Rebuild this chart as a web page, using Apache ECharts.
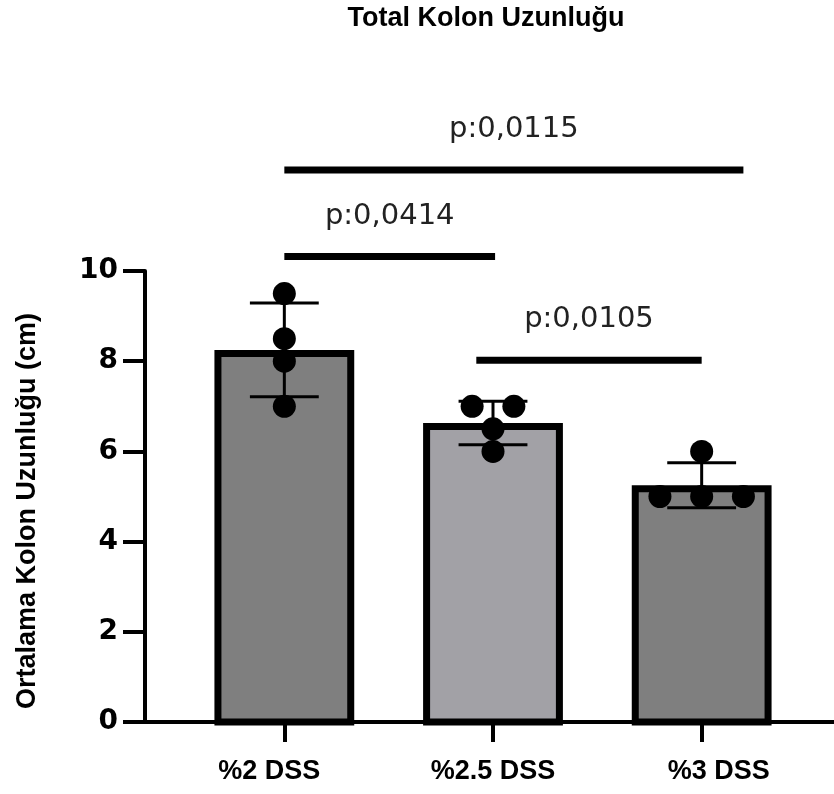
<!DOCTYPE html>
<html>
<head>
<meta charset="utf-8">
<script src="https://cdn.jsdelivr.net/npm/echarts@6/dist/echarts.min.js"></script>
<style>
html,body{margin:0;padding:0;background:#fff;}
#chart{width:834px;height:794px;}
</style>
</head>
<body>
<div id="chart"></div>
<script>
const categories = ['%2 DSS', '%2.5 DSS', '%3 DSS'];
const means = [8.25, 6.63, 5.25];
const sds = [1.04, 0.48, 0.50];
const dotX = [0, 0, 0, 0, 0.9, 1.1, 1, 1, 1.8, 2, 2.2, 2];
const dotY = [9.5, 8.5, 8.0, 7.0, 7.0, 7.0, 6.5, 6.0, 5.0, 5.0, 5.0, 6.0];
const yMin = 0, yMax = 10, yStep = 2;
const pLabels = ['p:0,0115', 'p:0,0414', 'p:0,0105'];
const bracketStart = [0, 0, 0.92];
const bracketEnd = [2.2, 1.01, 2.0];
const bracketY = [12.24, 10.32, 8.02];

const barFill = ['#7f7f7f', '#a2a1a6', '#7f7f7f'];
const labelPads = [[0, 30, 0, 0], [0, 0, 0, 0], [0, 0, 0, 34]];

const chart = echarts.init(document.getElementById('chart'), null, {renderer: 'canvas'});

const option = {
  animation: false,
  backgroundColor: '#fff',
  grid: [
    {left: 180, right: 28, top: 271, bottom: 72},
    {left: 145, right: 0, top: 271, bottom: 72}
  ],
  xAxis: [
    {
      type: 'category', gridIndex: 0,
      data: categories.map((c, i) => ({value: c, textStyle: {padding: labelPads[i]}})),
      axisLine: {show: true, onZero: false, lineStyle: {color: '#000', width: 4}},
      axisTick: {show: true, alignWithLabel: true, length: 20, lineStyle: {color: '#000', width: 4}},
      axisLabel: {margin: 36, color: '#000', fontSize: 27, fontWeight: 'bold', fontFamily: 'Liberation Sans'},
      splitLine: {show: false}
    },
    {type: 'value', gridIndex: 0, min: -0.5, max: 2.5, show: false},
    {
      type: 'value', gridIndex: 1, min: 0, max: 1,
      axisLine: {show: true, onZero: false, lineStyle: {color: '#000', width: 4}},
      axisTick: {show: false}, axisLabel: {show: false}, splitLine: {show: false}
    }
  ],
  yAxis: [
    {
      type: 'value', gridIndex: 0, min: yMin, max: yMax, interval: yStep, offset: 35,
      axisLine: {show: true, onZero: false, lineStyle: {color: '#000', width: 4}},
      axisTick: {show: true, length: 22, lineStyle: {color: '#000', width: 4}},
      axisLabel: {margin: 27, color: '#000', fontSize: 28, fontWeight: 'bold', fontFamily: 'DejaVu Sans'},
      splitLine: {show: false}
    },
    {type: 'value', gridIndex: 1, min: 0, max: 1, show: false}
  ],
  graphic: [
    {
      type: 'text', x: 486, y: 19, z: 10,
      style: {text: 'Total Kolon Uzunluğu', font: 'bold 27px "Liberation Sans"', fill: '#000',
        textAlign: 'center', textVerticalAlign: 'middle'}
    },
    {
      type: 'text', x: 28, y: 511, rotation: Math.PI / 2, z: 10,
      style: {text: 'Ortalama Kolon Uzunluğu (cm)', font: 'bold 27px "Liberation Sans"', fill: '#000',
        textAlign: 'center', textVerticalAlign: 'middle'}
    }
  ],
  series: [
    {
      type: 'custom', xAxisIndex: 0, yAxisIndex: 0, z: 2,
      data: categories.map((c, i) => [i, means[i]]),
      renderItem: function (params, api) {
        const i = api.value(0);
        const top = api.coord([i, api.value(1)]);
        const base = api.coord([i, 0]);
        const band = api.size([1, 0])[0];
        const w = band * 0.67;
        const bw = 7;
        return {
          type: 'rect',
          shape: {x: top[0] - w / 2 + bw / 2, y: top[1] + bw / 2, width: w - bw, height: base[1] - top[1] - bw / 2},
          style: {fill: barFill[i], stroke: '#000', lineWidth: bw}
        };
      }
    },
    {
      type: 'custom', xAxisIndex: 0, yAxisIndex: 0, z: 3,
      data: categories.map((c, i) => [i, means[i], sds[i]]),
      renderItem: function (params, api) {
        const i = api.value(0), m = api.value(1), s = api.value(2);
        const hi = api.coord([i, m + s]);
        const lo = api.coord([i, m - s]);
        const half = api.size([1, 0])[0] * 0.165;
        const st = {stroke: '#000', lineWidth: 3};
        return {
          type: 'group',
          children: [
            {type: 'line', shape: {x1: hi[0], y1: hi[1], x2: lo[0], y2: lo[1]}, style: st},
            {type: 'line', shape: {x1: hi[0] - half, y1: hi[1], x2: hi[0] + half, y2: hi[1]}, style: st},
            {type: 'line', shape: {x1: lo[0] - half, y1: lo[1], x2: lo[0] + half, y2: lo[1]}, style: st}
          ]
        };
      }
    },
    {
      type: 'scatter', xAxisIndex: 1, yAxisIndex: 0, z: 4,
      symbol: 'circle', symbolSize: 23,
      itemStyle: {color: '#000', opacity: 1},
      data: dotX.map((x, k) => [x, dotY[k]])
    },
    {
      type: 'custom', xAxisIndex: 1, yAxisIndex: 0, z: 5,
      data: pLabels.map((p, k) => [bracketStart[k], bracketEnd[k], bracketY[k], k]),
      renderItem: function (params, api) {
        const k = api.value(3);
        const a = api.coord([api.value(0), api.value(2)]);
        const b = api.coord([api.value(1), api.value(2)]);
        return {
          type: 'group',
          children: [
            {type: 'line', shape: {x1: a[0], y1: a[1], x2: b[0], y2: b[1]}, style: {stroke: '#000', lineWidth: 7}},
            {type: 'text', style: {text: pLabels[k], x: (a[0] + b[0]) / 2, y: a[1] - 26,
              font: '29px "DejaVu Sans"', fill: '#222', textAlign: 'center', textVerticalAlign: 'bottom',
              align: 'center', verticalAlign: 'bottom'}}
          ]
        };
      }
    }
  ]
};
chart.setOption(option);
</script>
</body>
</html>
